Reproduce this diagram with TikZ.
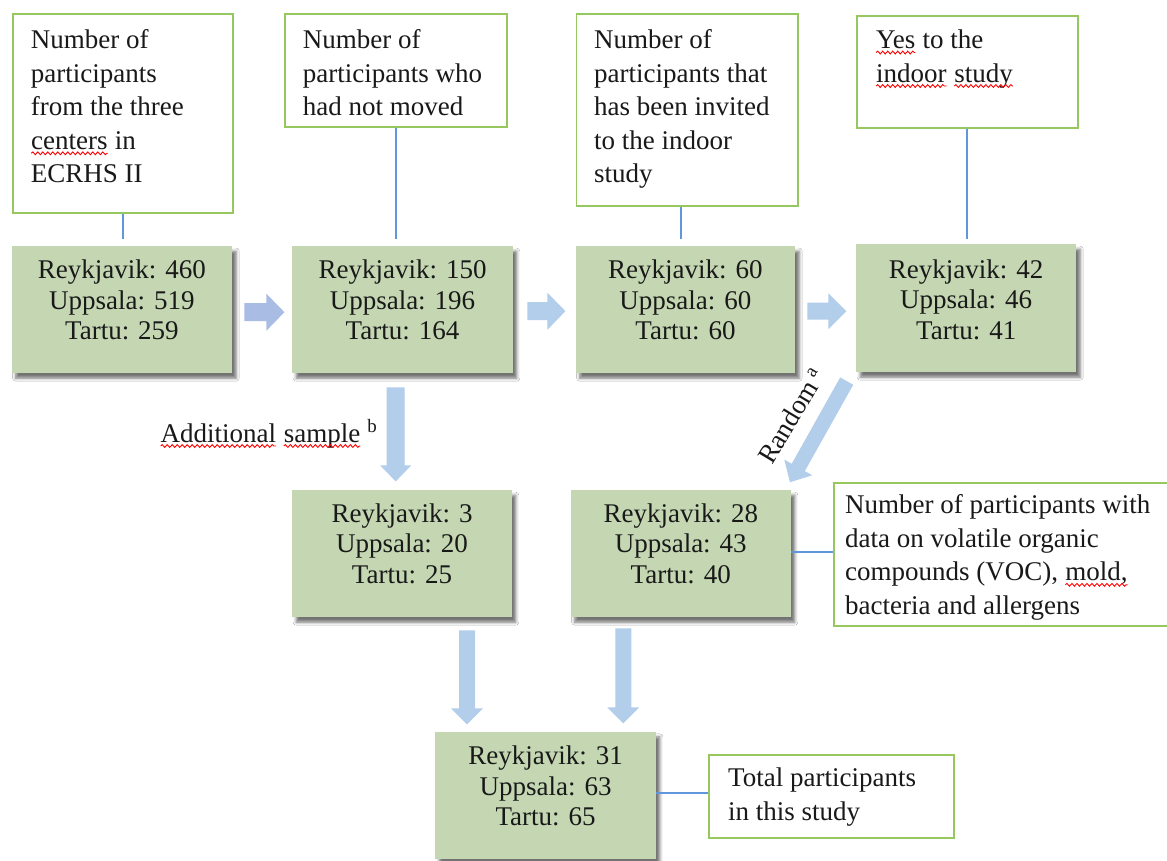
\documentclass[tikz,border=0pt]{standalone}
\usepackage{fontspec}
\setmainfont{Liberation Serif}
\usetikzlibrary{calc,shadows.blur,decorations.pathmorphing}
\definecolor{gfill}{RGB}{196,215,178}
\definecolor{gline}{RGB}{150,200,95}
\definecolor{cline}{RGB}{95,150,220}
\definecolor{arw}{RGB}{178,206,234}
\definecolor{arwp}{RGB}{168,188,228}
\definecolor{txt}{RGB}{25,25,25}
\newcommand\sq[1]{\tikz[baseline=(sqw.base)]{\node[inner sep=0pt,outer sep=0pt,anchor=base] (sqw) {#1};\draw[red,line width=0.9pt,decorate,decoration={snake,amplitude=1.4pt,segment length=5pt}] ([yshift=-4pt]sqw.base west) -- ([yshift=-4pt]sqw.base east);}}
\newcommand\blockarrow[7]{%
  \fill[#1, shift={#2}, rotate=#3] (0,-#5) -- ({#4-#7},-#5) -- ({#4-#7},-#6) -- (#4,0) -- ({#4-#7},#6) -- ({#4-#7},#5) -- (0,#5) -- cycle;}
\tikzset{
  wbox/.style={draw=gline, line width=1.8pt, fill=white, inner sep=0pt, anchor=north west},
  gbox/.style={fill=gfill, inner sep=0pt, anchor=north west,
    blur shadow={shadow xshift=4pt, shadow yshift=-5pt, shadow blur radius=3pt, shadow opacity=55}},
  wtext/.style={anchor=north west, inner sep=0pt, align=left, text=txt, font=\rmfamily\fontsize{27}{33.5}\selectfont},
  gtext/.style={anchor=north, inner sep=0pt, align=center, text=txt, font=\rmfamily\fontsize{27}{30.5}\selectfont},
  link/.style={draw=cline, line width=1.8pt},
}
\begin{document}
\begin{tikzpicture}[x=1pt,y=-1pt]
\useasboundingbox (0,0) rectangle (1167,860);
\fill[white] (0,0) rectangle (1167,860);

% white description boxes
\node[wbox, minimum width=220pt, minimum height=199pt] (b1) at (12,13) {};
\node[wtext] (t1) at (30.6,29.6) {Number of\\participants\\from the three\\\sq{centers} in\\ECRHS II};
\node[wbox, minimum width=222pt, minimum height=113pt] (b2) at (284,13) {};
\node[wtext] (t2) at (302.7,29.6) {Number of\\participants who\\had not moved};
\node[wbox, minimum width=221.5pt, minimum height=192pt] (b3) at (575.5,13) {};
\node[wtext] (t3) at (594,29.6) {Number of\\participants that\\has been invited\\to the indoor\\study};
\node[wbox, minimum width=221pt, minimum height=112pt] (b4) at (856,15) {};
\node[wtext] (t4) at (875.5,29.6) {\sq{Yes} to the\\\sq{indoor} \sq{study}};
\node[wbox, minimum width=350pt, minimum height=143.3pt] (b5) at (832.7,481.7) {};
\node[wtext] (t5) at (845,494.6) {Number of participants with\\data on volatile organic\\compounds (VOC), \sq{mold,}\\bacteria and allergens};
\node[wbox, minimum width=244.7pt, minimum height=82.7pt] (b6) at (708,754) {};
\node[wtext] (t6) at (728,767.6) {Total participants\\in this study};

% green count boxes
\node[gbox, minimum width=220.5pt, minimum height=127pt] (g1) at (11.5,246) {};
\node[gtext] (s1) at ($(g1.north)+(0,13.6)$) {Reykjavik: 460\\Uppsala: 519\\Tartu: 259};
\node[gbox, minimum width=220.6pt, minimum height=127pt] (g2) at (292,246) {};
\node[gtext] (s2) at ($(g2.north)+(0,13.6)$) {Reykjavik: 150\\Uppsala: 196\\Tartu: 164};
\node[gbox, minimum width=219.5pt, minimum height=127pt] (g3) at (575.5,246) {};
\node[gtext] (s3) at ($(g3.north)+(0,13.6)$) {Reykjavik: 60\\Uppsala: 60\\Tartu: 60};
\node[gbox, minimum width=220pt, minimum height=128pt] (g4) at (856,244) {};
\node[gtext] (s4) at ($(g4.north)+(0,15.3)$) {Reykjavik: 42\\Uppsala: 46\\Tartu: 41};
\node[gbox, minimum width=219.6pt, minimum height=127pt] (g5) at (292,490) {};
\node[gtext] (s5) at ($(g5.north)+(0,13.2)$) {Reykjavik: 3\\Uppsala: 20\\Tartu: 25};
\node[gbox, minimum width=220.1pt, minimum height=127pt] (g6) at (570.5,490) {};
\node[gtext] (s6) at ($(g6.north)+(0,13.2)$) {Reykjavik: 28\\Uppsala: 43\\Tartu: 40};
\node[gbox, minimum width=220.7pt, minimum height=127.3pt] (g7) at (435,731.7) {};
\node[gtext] (s7) at ($(g7.north)+(0,13.9)$) {Reykjavik: 31\\Uppsala: 63\\Tartu: 65};

% thin connectors
\draw[link, shorten >=7pt] (b1.south) -- (b1.south |- g1.north);
\draw[link, shorten >=7pt] (b2.south) -- (b2.south |- g2.north);
\draw[link, shorten >=7pt] ([xshift=-6pt]b3.south) -- ([xshift=-6pt]b3.south |- g3.north);
\draw[link, shorten >=5pt] ([xshift=-0.5pt]b4.south) -- ([xshift=-0.5pt]b4.south |- g4.north);
\draw[link] ([yshift=2pt]g6.east) -- ([yshift=2pt]g6.east -| b5.west);
\draw[link] ([yshift=2.5pt]g7.east) -- ([yshift=2.5pt]g7.east -| b6.west);

% block arrows
\blockarrow{arwp}{($(g1.east)+(12,2.5)$)}{0}{40}{9}{18.5}{18}
\blockarrow{arw}{($(g2.east)+(14.4,1.5)$)}{0}{38}{9}{18.5}{18}
\blockarrow{arw}{($(g3.east)+(12,1.5)$)}{0}{39}{8.5}{18}{18}
\blockarrow{arw}{($(g2.south)+(-6.8,14)$)}{-90}{94}{9}{15.5}{16}
\blockarrow{arw}{($(g4.south west)+(-9.3,8.7)$)}{-119.3}{116}{7.5}{16}{17}
\blockarrow{arw}{($(g5.south)+(65,13)$)}{-90}{94}{8}{16}{16}
\blockarrow{arw}{($(g6.south)+(-57.5,11)$)}{-90}{95}{8}{16}{16}

% labels
\node[anchor=base west, inner sep=0pt, text=txt, font=\rmfamily\fontsize{27}{30}\selectfont] (addl) at (160,442) {\sq{Additional} \sq{sample} \textsuperscript{b}};
\node[anchor=base west, inner sep=0pt, rotate=59, text=txt, font=\rmfamily\fontsize{27}{30}\selectfont] (rnd) at (772,466) {Random\,\textsuperscript{a}};
\end{tikzpicture}
\end{document}
